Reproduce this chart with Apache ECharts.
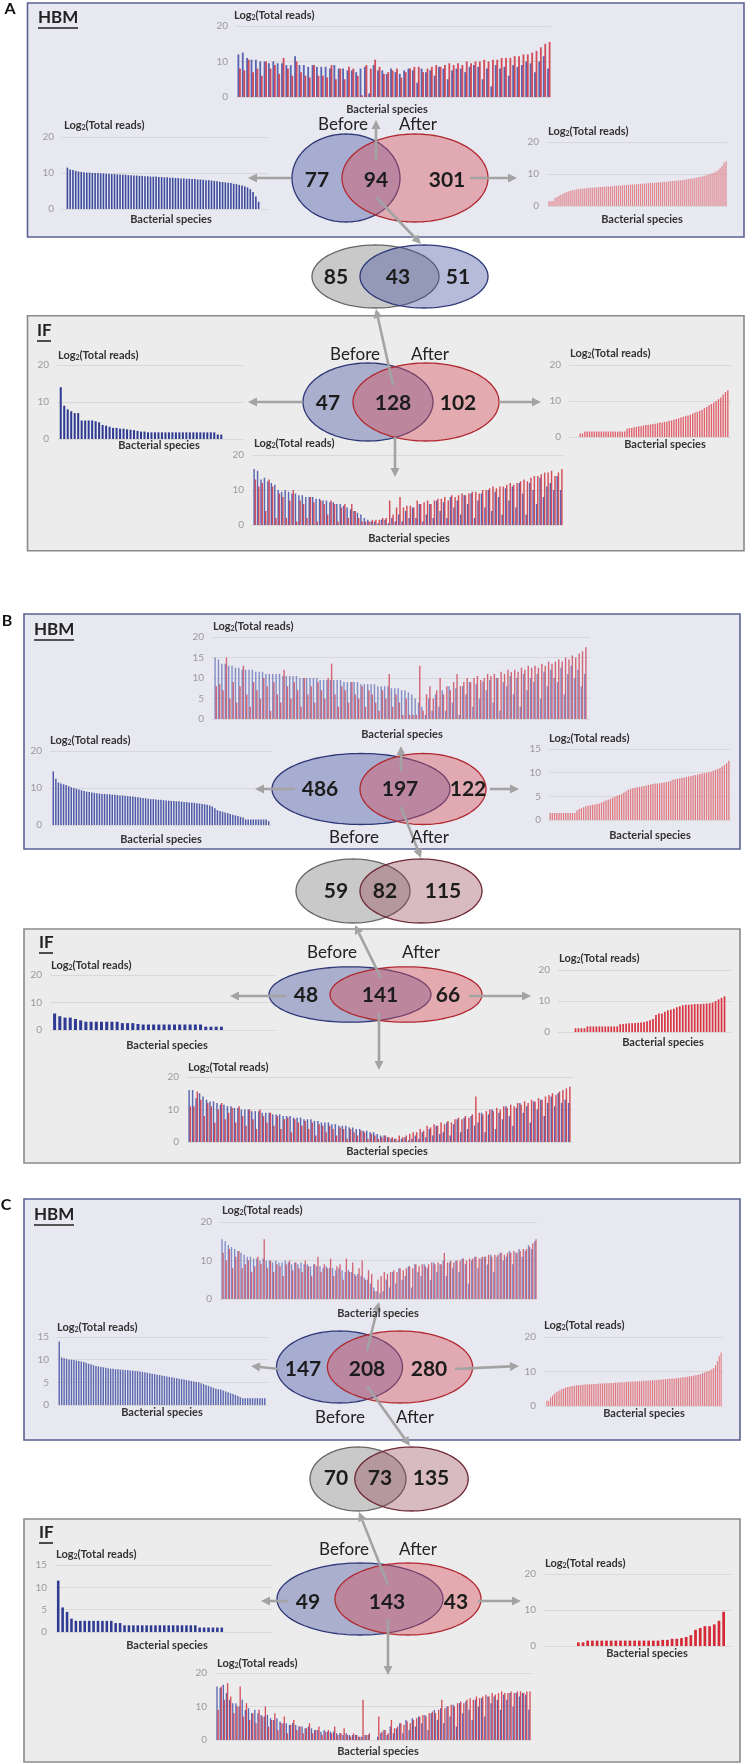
<!DOCTYPE html>
<html><head><meta charset="utf-8">
<script src="https://cdn.jsdelivr.net/npm/echarts@6/dist/echarts.min.js"></script>
<style>html,body{margin:0;padding:0;background:#fff}#c{width:746px;height:1763px}</style>
</head><body><div id="c"></div>
<script>
// ---------------- DATA (Log2 total reads per bacterial species) ----------------
// Panel A – HBM
const aHbmSharedBefore = [12,12.5,11,10.5,10.5,10,10,9.5,10,9.5, 9.5,9,9,11.5,9,9,8.5,9,8.5,8.5, 8.5,8,9,8,8,7.5,7.5,7,8,8.5, 1,9,7.5,7.5,6.5,8,7,6.5,7.5,8, 7.5,4,8,7,7.5,6,8.5,8,5,7.5, 8,8,7,8.5,9,8.5,5,8,3,9, 8,8.5,6,9,8.5,9,10,9.5,7,10, 11.5,8];
const aHbmSharedAfter  = [8,7.5,10.5,7,8,6,10,8,9,6.5, 11,8,6,10,7,6,5.5,9,6,6, 5.5,9,5,8,5,8.5,8,6,0.5,9, 8,10.5,8.5,6.5,7,7.5,8,5.5,7,8, 8.5,8.5,7,8,8.5,9,8.5,9,9.5,9, 9.5,9,10,9.5,10,10,10.5,10,10.5,10.5, 11,11,11,11.5,11.5,12,12,12.5,13,14, 15,15.5];
const aHbmBeforeOnly = [11.5,11,10.8,10.6,10.4,10.3,10.2,10.1,10.1,10, 10,10,9.9,9.9,9.8,9.8,9.7,9.7,9.6,9.6, 9.5,9.5,9.4,9.4,9.3,9.3,9.2,9.2,9.1,9.1, 9,9,9,8.9,8.9,8.8,8.8,8.7,8.7,8.6, 8.6,8.5,8.5,8.4,8.4,8.3,8.3,8.2,8.2,8.1, 8,8,7.9,7.8,7.7,7.6,7.5,7.4,7.3,7.2, 7,6.9,6.7,6.5,6.3,6,5.5,4.7,3.5,2];
const aHbmAfterOnly = [1.5,1.5,1.6,2.5,2.8,3.2,3.5,3.8,4.1,4.4, 4.6,4.8,5,5.1,5.2,5.3,5.4,5.5,5.5,5.6, 5.6,5.7,5.7,5.8,5.8,5.9,5.9,6,6,6.1, 6.1,6.2,6.2,6.3,6.3,6.4,6.4,6.5,6.5,6.6, 6.6,6.7,6.7,6.8,6.8,6.9,6.9,7,7,7.1, 7.1,7.2,7.2,7.3,7.3,7.4,7.4,7.5,7.5,7.6, 7.6,7.7,7.8,7.8,7.9,8,8,8.1,8.2,8.3, 8.4,8.5,8.6,8.7,8.8,9,9.1,9.2,9.4,9.6, 9.8,10,10.2,10.5,10.8,11.2,11.8,12.5,13.5,14];
// Panel A – IF
const aIfBeforeOnly = [14,9,8,7.5,7,7,5,5,5,5, 4.8,4.5,3.8,3.6,3.3,3,3,2.8,2.8,2.6, 2.5,2.4,2.2,2,2,1.8,1.8,1.8,1.8,1.8, 1.8,1.8,1.8,1.8,1.8,1.8,1.8,1.8,1.8,1.8, 1.8,1.8,1.8,1.8,1.8,1.2,1.2];
const aIfAfterOnly = [1,1,1.5,1.5,1.5,1.5,1.5,1.5,1.5,1.5, 1.5,1.5,1.5,1.5,1.5,1.5,1.5,1.5,1.5,1.5, 2.3,2.5,2.5,2.7,2.8,3,3,3.2,3.3,3.4, 3.5,3.6,3.7,3.8,4,4,4.2,4.3,4.5,4.6, 4.8,5,5.2,5.4,5.6,5.8,6,6.2,6.5,6.8, 7,7.3,7.6,8,8.4,8.8,9.2,9.6,10,10.5, 11,11.8,12.5,13];
const aIfSharedBefore = [16,15.5,13,13.5,12.5,12,11.5,10,9.5,10, 9.5,9,9,8.5,8.5,8,8,8,7.5,7.5, 7,7,6.5,6.5,6,6,5.5,5,4.5,4, 3.5,3,2,1.5,1,1,0.5,1.5,1.5,0.5, 2,1,3,1,4,2,5,2,6,1, 3,6,2,7,4,6.5,2,8,5,7, 3,8.5,6,9,2,7,9,5,10,4, 9.5,8,3,10.5,7,11,5,12,9,3, 12,10,6,13.5,8,11,12,10,14,10];
const aIfSharedAfter  = [13,11,12,4,13,11,2,9,8,2, 7,10,1,7,6,2,8,6.5,1,7, 6,3,7,6,1,5,6,2,6,4, 2,1,1,1,1.5,1.5,1.5,2,2,7, 3,5,8,5,5.5,5.5,5,7,6,6.5, 7,6,7,7.5,7.5,8,7,8.5,8,8.5, 9,8.5,9,9.5,9.5,9,10,10,10.5,11, 10.5,11,11,11.5,12,11.5,12,12.5,13,12.5, 13.5,14,14,14.5,15,15,15.5,14,15,16];
// Panel B – HBM
const bHbmSharedBefore = [15,14.5,13.5,13.5,13,13,12.5,12.5,12,12, 12,12,11.5,11.5,11.5,11,11,11,11,11, 10.5,10.5,10.5,10.5,10.5,10,10,10,10,10, 10,9.5,9.5,9.5,9.5,9.5,9.5,9.5,9,9, 9,9,9,8.5,8.5,8.5,8.5,8.5,8,8, 8,8,7.5,7.5,7.5,7,7,6.5,6,5, 4,3,1,5,2,6,3,7,2,8, 4,7.5,1,8,6,9,3,8.5,5,9, 7,9.5,4,10,2,9,8,10.5,6,10, 3,11,7,10,9,11,5,11.5,8,12, 10,9,12.5,6,11,13,10,12,8,11];
const bHbmSharedAfter  = [8,8.5,7,15,5,9,4,8,13,6, 3,9,7,5,10,8,2,9,6,4, 12,8,5,9,7,3,10,6,8,4, 9,7,5,10,13.5,6,3,8,7,4, 9,6,5,8,3,7,6,4,2,7, 5,11,3,6,4,1,5,1,1,1, 13,2,6,8,5,7,10,6,8,7, 9,11,8,9,10,9,10,10.5,9.5,10, 11,10.5,11,10,11.5,11,12,11.5,12,11.5, 12.5,12,13,12.5,13,12.5,13.5,13,14,13.5, 14,14.5,14,15,14.5,15.5,15,16,16.5,17.5];
const bHbmBeforeOnly = [14.5,12.5,11.5,11.2,11,10.8,10.5,10.2,10,9.8, 9.6,9.4,9.2,9,8.9,8.8,8.7,8.6,8.5,8.4, 8.4,8.3,8.3,8.2,8.2,8.1,8,8,7.9,7.8, 7.8,7.7,7.6,7.5,7.4,7.3,7.2,7.1,7,7, 6.9,6.8,6.8,6.7,6.6,6.6,6.5,6.5,6.4,6.4, 6.3,6.2,6.2,6.1,6,6,5.9,5.8,5.7,5.6, 5.5,5.3,5,4.5,4,3.8,3.6,3.4,3.2,3, 2.8,2.6,2.4,2.2,2,1.5,1.5,1.5,1.5,1.5, 1.5,1.5,1.5,1.5,1];
const bHbmAfterOnly = [1.5,1.5,1.5,1.5,1.5,1.5,1.5,1.5,1.5,1.5, 1.5,1.5,2,2.3,2.5,2.7,2.9,3,3.1,3.2, 3.3,3.4,3.5,3.7,3.9,4.1,4.3,4.5,4.7,4.9, 5.1,5.3,5.5,5.8,6.1,6.4,6.6,6.7,6.8,6.9, 7,7.1,7.2,7.3,7.4,7.5,7.6,7.7,7.7,7.8, 7.8,7.9,8,8.1,8.3,8.5,8.6,8.7,8.8,8.9, 9,9.1,9.2,9.3,9.4,9.5,9.6,9.7,9.8,9.9, 10,10.1,10.2,10.4,10.6,10.8,11,11.3,11.6,12, 12.5];
// Panel B – IF
const bIfBeforeOnly = [6,5,4.5,4.5,4,3.5,3,3,3,3, 3,3,3,2.5,2.5,2.5,2.2,2,2,2, 2,2,2,2,2,2,2,2,2,1.2, 1.2,1.2,1.2];
const bIfAfterOnly = [1.2,1.2,1.2,1.2,1.8,1.8,1.8,1.8,1.8,1.8, 1.8,1.8,1.8,1.8,1.8,2.5,2.6,2.7,2.8,2.8, 2.9,3,3.1,3.2,3.5,3.8,4.2,5.5,6,6, 6.5,7,7.2,7.5,8,8.3,8.6,8.8,8.8,8.9, 9,9,9,9.1,9.2,9.3,9.5,10,10.5,11, 11.5];
const bIfSharedBefore = [16,16,13.5,15,14,13,12.5,12.5,12,11.5, 11.5,11,11,10.5,10.5,10,10,10,9.5,9.5, 9.5,9,9,9,8.5,8.5,8.5,8,8,8, 7.5,7.5,7.5,7,7,7,6.5,6.5,6,6, 6,5.5,5.5,5,5,5,4.5,4.5,4,4, 3.5,3.5,3,3,2.5,2,2,1.5,1,1, 0.5,1,1.5,0.5,1,2,1,3,1.5,4, 2,5,2.5,3,6,2,5.5,7,3,7.5, 4,8,5,6,9,3,8.5,10,4,9, 7,11,8,5,10.5,12,9,11,6,12.5, 10,13,8,12,14,11,15,12,13,12];
const bIfSharedAfter  = [11,11,15.5,13,8,12,11,6,10,12, 7,9,10.5,6,11,8,5,10,7,4, 10,8,6,9,5,8,4,7,7.5,3, 7,6,5,6.5,4,6,2,5.5,5,3, 5,4,2,4.5,4,1,4,3,2,3.5, 3,1,2.5,2,1,1.5,2,1.5,1.5,1, 2,1.5,2,2.5,3,3,4,3.5,5,4.5, 5.5,5,6,5.5,6.5,6,7,7.5,7,8, 7.5,8.5,14,9,8.5,9.5,10,9.5,10.5,10, 11,10.5,11.5,11,12,11.5,12.5,12,13,12.5, 13.5,13,14,14.5,15,14.5,15.5,16,16.5,17];
// Panel C – HBM
const cHbmSharedBefore = [15.5,15,14,13.5,13,12.5,12,11.5,11,11, 10.5,10.5,10,10.5,10,10,9.5,10,9.5,9.5, 10,9.5,9,9.5,9,9.5,9,9,8.5,9, 8.5,8.5,8,8.5,8,8,7.5,8,7.5,7, 7.5,7,6.5,6.5,6,5.5,5,4,3,2, 1.5,2,5,3,7,4,8,5,6,8.5, 3,9,7,6,9,8,5,9.5,7,9, 10,6,9.5,8,10,7,10.5,9,4,10, 11,8,10.5,11,9,11.5,7,11,12,10, 11,12.5,9,12,13,11,12.5,14,13,15];
const cHbmSharedAfter  = [12,10,13,8,11,12.5,8,9,10,7, 8.5,11,9,15.5,8,10,7,9,8.5,6, 9,10,7.5,9.5,8,7,10,8.5,6,9, 11,7,9,8,10.5,6,8.5,9,5,10.5, 7,9.5,6,8,10,5,7.5,6.5,2,5, 6,7,6.5,7,7.5,7,8,7.5,8,8.5, 8,9,8.5,9,8.5,9,9.5,9,9.5,9, 12,9.5,10,9.5,10,10,10.5,10,10.5,10.5, 11,10.5,11,11,11.5,11,11.5,11.5,12,11.5, 12,12,12.5,12,12.5,13,13,13.5,14.5,15.5];
const cHbmBeforeOnly = [14,10.5,10.3,10.2,10,10,9.9,9.8,9.7,9.6, 9.5,9.3,9.1,9,8.8,8.6,8.5,8.4,8.3,8.2, 8.1,8,8,7.9,7.9,7.8,7.8,7.7,7.7,7.6, 7.6,7.5,7.5,7.4,7.3,7.2,7.1,7,6.9,6.8, 6.7,6.6,6.5,6.4,6.3,6.2,6.1,6,5.9,5.8, 5.7,5.6,5.5,5.4,5.3,5.2,5.1,5,4.8,4.6, 4.4,4.2,4,3.8,3.6,3.5,3.4,3.2,3,2.8, 2.6,2.4,2.2,2,1.7,1.5,1.5,1.5,1.5,1.5, 1.5,1.5,1.5,1.5,1.5];
const cHbmAfterOnly = [1.5,1.5,2.5,3,3.5,4,4.3,4.6,4.9,5.1, 5.3,5.5,5.6,5.7,5.8,5.9,6,6,6.1,6.1, 6.2,6.2,6.3,6.3,6.3,6.4,6.4,6.4,6.5,6.5, 6.5,6.6,6.6,6.6,6.7,6.7,6.7,6.8,6.8,6.8, 6.9,6.9,6.9,7,7,7,7.1,7.1,7.1,7.2, 7.2,7.2,7.3,7.3,7.3,7.4,7.4,7.5,7.5,7.5, 7.6,7.6,7.7,7.7,7.8,7.8,7.9,7.9,8,8, 8.1,8.1,8.2,8.3,8.3,8.4,8.5,8.6,8.7,8.8, 8.9,9,9.1,9.3,9.5,9.7,9.9,10.1,10.3,10.6, 11,11.8,13,14.5,15.5];
// Panel C – IF
const cIfBeforeOnly = [11.5,5.5,4.5,3,2.5,2.5,2.5,2.5,2.5,2.5, 2.5,2.5,2.5,2,2,1.5,1.5,1.5,1.5,1.5, 1.5,1.5,1.5,1.5,1.5,1.5,1.5,1.5,1.5,1.5, 1.5,1.5,1,1,1,1,1,1];
const cIfAfterOnly = [1,1,1.5,1.5,1.5,1.5,1.5,1.5,1.5,1.5, 1.5,1.5,1.5,1.5,1.5,1.5,1.5,1.5,1.7,1.7, 2,2,2.2,2.5,3,4.5,5,5.5,5.5,6, 7,9.5];
const cIfSharedBefore = [16,15.5,16.5,14,12,11,11,10,12,9, 9.5,8,9,8,7.5,7,7.5,6.5,6,6.5, 5.5,5,5,4.5,5,4.5,4,4,3.5,4, 3.5,3,3,2.5,3,2.5,2.5,2.5,2,2, 1.5,2,1.5,1.5,1.5,1,1,1.5,1.5,0, 0,1,2,3,1.5,4,2,3.5,5,2, 6,3,6.5,4,7,5,7.5,3,8,9, 6,9.5,5,10,7,10.5,4,11,8,11.5, 9,6,12,10,12.5,7,13,11,13,12, 9,13.5,12,14,10,14,13,14,13.5,9];
const cIfSharedAfter  = [9,16,12,17,13,8,10,16,7,11, 6,8,5,9,7,10,4,6,8,3, 5,7,2,4.5,6,3,4,2,3.5,5, 2,3,4,1.5,2.5,3,2,4,1.5,2, 3.5,1.5,1,2,1.5,1,12,1.5,2,0, 0,7,2.5,3,2,6,3.5,4,5,4.5, 5.5,5,6,6.5,7,7.5,7,8,8.5,8, 9,12,9.5,10,10.5,10,11,11.5,11,12, 12.5,12,13,12.5,13,13.5,13,14,13.5,14, 14.5,14,14,14.5,14,14.5,14.5,14,14.5,14.5];

// Venn counts
const vennA_HBM = [77, 94, 301], vennA_cmp = [85, 43, 51], vennA_IF = [47, 128, 102];
const vennB_HBM = [486, 197, 122], vennB_cmp = [59, 82, 115], vennB_IF = [48, 141, 66];
const vennC_HBM = [147, 208, 280], vennC_cmp = [70, 73, 135], vennC_IF = [49, 143, 43];

// ---------------- LAYOUT ----------------
const F = "Lato, 'Open Sans', sans-serif";
const BLUE_S = 'rgba(58,72,162,0.82)', RED_S = 'rgba(206,42,58,0.82)';
// plot: [left, top, right, bottom]; bars: [first bar left px, last bar right px]
const specs = [
  {plot:[236,26,551,97],   bars:[237,551], yMax:20, yInt:10, s:[aHbmSharedBefore,aHbmSharedAfter], c:[BLUE_S,RED_S], t:[234,15], xl:[387,109]},
  {plot:[62,137,268,209],  bars:[66,260],  yMax:20, yInt:10, s:[aHbmBeforeOnly], c:['#3f4c9e'], t:[64,125], xl:[171,219]},
  {plot:[547,142,727,206], bars:[548,727], yMax:20, yInt:10, s:[aHbmAfterOnly], c:['#e0848d'], t:[548,131], xl:[642,219]},
  {plot:[57,365,243,439],  bars:[59,223],  yMax:20, yInt:10, s:[aIfBeforeOnly], c:['#2f3a92'], t:[58,355], xl:[159,445]},
  {plot:[569,365,731,437], bars:[579,729], yMax:20, yInt:10, s:[aIfAfterOnly], c:['#e0606c'], t:[570,353], xl:[665,444]},
  {plot:[252,455,563,525], bars:[253,563], yMax:20, yInt:10, s:[aIfSharedBefore,aIfSharedAfter], c:[BLUE_S,RED_S], t:[254,443], xl:[409,538]},

  {plot:[212,637,590,719], bars:[214,587], yMax:20, yInt:5, s:[bHbmSharedBefore,bHbmSharedAfter], c:['rgba(90,104,178,0.7)','rgba(200,50,70,0.7)'], t:[213,626], xl:[402,734]},
  {plot:[50,751,272,825],  bars:[52,270],  yMax:20, yInt:10, s:[bHbmBeforeOnly], c:['#4d59a6'], t:[50,740], xl:[161,839]},
  {plot:[549,749,730,820], bars:[549,730], yMax:15, yInt:5, s:[bHbmAfterOnly], c:['#e07880'], t:[549,738], xl:[650,835]},
  {plot:[50,975,275,1030], bars:[52,224],  yMax:20, yInt:10, s:[bIfBeforeOnly], c:['#2f3a92'], t:[51,965], xl:[167,1045]},
  {plot:[558,970,731,1032],bars:[574,726], yMax:20, yInt:10, s:[bIfAfterOnly], c:['#d83644'], t:[559,958], xl:[663,1042]},
  {plot:[187,1077,573,1142],bars:[188,571],yMax:20, yInt:10, s:[bIfSharedBefore,bIfSharedAfter], c:[BLUE_S,RED_S], t:[188,1067], xl:[387,1151]},

  {plot:[220,1222,537,1299],bars:[221,537],yMax:20, yInt:10, s:[cHbmSharedBefore,cHbmSharedAfter], c:['rgba(90,104,178,0.72)','rgba(200,50,70,0.72)'], t:[222,1210], xl:[378,1313]},
  {plot:[57,1337,268,1405], bars:[58,266], yMax:15, yInt:5, s:[cHbmBeforeOnly], c:['#5a66ad'], t:[57,1327], xl:[162,1412]},
  {plot:[544,1337,723,1406],bars:[546,722],yMax:20, yInt:10, s:[cHbmAfterOnly], c:['#e07880'], t:[544,1325], xl:[644,1413]},
  {plot:[55,1565,272,1632], bars:[56,224], yMax:15, yInt:5, s:[cIfBeforeOnly], c:['#2f3a92'], t:[56,1554], xl:[167,1645]},
  {plot:[544,1574,731,1646],bars:[576,726],yMax:20, yInt:10, s:[cIfAfterOnly], c:['#d42a36'], t:[545,1563], xl:[647,1653]},
  {plot:[215,1673,531,1740],bars:[216,531],yMax:20, yInt:10, s:[cIfSharedBefore,cIfSharedAfter], c:[BLUE_S,RED_S], t:[217,1663], xl:[378,1751]}
];

// ---------------- GRAPHIC HELPERS ----------------
const gfx = [];
function box(x,y,w,h,fill,stroke){gfx.push({type:'rect',z:-10,silent:true,shape:{x:x,y:y,width:w,height:h},style:{fill:fill,stroke:stroke,lineWidth:1.6}});}
function txt(x,y,t,size,weight,align,color){gfx.push({type:'text',z:60,silent:true,x:x,y:y,style:{text:t,fontSize:size,fontWeight:weight,fontFamily:F,fill:color||'#222',textAlign:align||'center',textVerticalAlign:'middle',align:align||'center',verticalAlign:'middle'}});}
function uline(x1,x2,y){gfx.push({type:'line',z:60,silent:true,shape:{x1:x1,y1:y,x2:x2,y2:y},style:{stroke:'#222',lineWidth:1.6}});}
function title(x,y){gfx.push({type:'text',z:60,silent:true,x:x,y:y,style:{text:'{a|Log}{s|2}{a|(Total reads)}',rich:{a:{fontSize:11,fontWeight:'bold',fontFamily:F,fill:'#333'},s:{fontSize:7,fontWeight:'bold',fontFamily:F,fill:'#333',padding:[6,0,0,0]}},textAlign:'left',align:'left',textVerticalAlign:'middle',verticalAlign:'middle'}});}
function ell(cx,cy,rx,ry,fill,stroke){const p=[];for(let k=0;k<120;k++){const a=k/120*Math.PI*2;p.push([cx+rx*Math.cos(a),cy+ry*Math.sin(a)]);}gfx.push({type:'polygon',z:40,silent:true,shape:{points:p},style:{fill:fill,stroke:stroke,lineWidth:1.3}});}
function arrow(x1,y1,x2,y2){const dx=x2-x1,dy=y2-y1,L=Math.hypot(dx,dy),ux=dx/L,uy=dy/L,h=9,w=4.5,bx=x2-ux*h,by=y2-uy*h;
  gfx.push({type:'line',z:55,silent:true,shape:{x1:x1,y1:y1,x2:bx,y2:by},style:{stroke:'#a3a3a3',lineWidth:2.6}});
  gfx.push({type:'polygon',z:55,silent:true,shape:{points:[[x2,y2],[bx-uy*w,by+ux*w],[bx+uy*w,by-ux*w]]},style:{fill:'#a3a3a3'}});}

const HB='#e8e8f0', HBs='#5a6292', IFB='#ececec', IFs='#8a8a8a';
const vBefore='rgba(60,75,155,0.38)', vBeforeS='#2e3778', vAfter='rgba(215,80,90,0.42)', vAfterS='#b02830';
const gray='rgba(120,120,120,0.4)', grayS='#666', mauve='rgba(140,60,75,0.35)', mauveS='#6e2a35';
function nums(arr,xs,y,size){for(let i=0;i<3;i++) txt(xs[i],y,String(arr[i]),size||21,'bold','center','#1c1c1c');}

// Panel A
txt(10,9,'A',16,'bold','center','#111');
box(27.5,3,716.5,234,HB,HBs); txt(38,18,'HBM',17,'bold','left','#222'); uline(38,78,28);
ell(346,178,54,44,vBefore,vBeforeS); ell(415,178,73,44,vAfter,vAfterS);
txt(343,125,'Before',17,'normal'); txt(418,125,'After',17,'normal');
nums(vennA_HBM,[317,376,447],180);
arrow(291,178,248,178); arrow(470,178,517,178); arrow(376,160,376,120); arrow(376,197,421,244);
ell(375.5,276.5,63.5,31.5,gray,grayS); ell(424,276.5,64,31.5,vBefore,vBeforeS);
nums(vennA_cmp,[336,398,458],277);
box(27.5,315.7,716.5,235,IFB,IFs); txt(37,331,'IF',17,'bold','left','#222'); uline(37,51,341);
ell(368,402,65,39,vBefore,vBeforeS); ell(426,402,73,39,vAfter,vAfterS);
txt(355,355,'Before',17,'normal'); txt(430,355,'After',17,'normal');
nums(vennA_IF,[328,393,458],403);
arrow(393,385,376,309); arrow(303,402,248,402); arrow(499,402,541,402); arrow(395,437,395,477);

// Panel B
txt(7,621,'B',16,'bold','center','#111');
box(24,614,716,235,HB,HBs); txt(34,630,'HBM',17,'bold','left','#222'); uline(34,74,640);
ell(361,789,89,35.5,vBefore,vBeforeS); ell(423,789,63,35.5,vAfter,vAfterS);
txt(354,838,'Before',17,'normal'); txt(430,838,'After',17,'normal');
nums(vennB_HBM,[320,400,468],789);
arrow(295,789,255,789); arrow(490,789,519,789); arrow(401,771,401,746); arrow(401,807,421,858);
ell(353,891,57,32,gray,grayS); ell(421,891,61,32,mauve,mauveS);
nums(vennB_cmp,[336,385,443],891);
box(24,929,716,234,IFB,IFs); txt(39,943,'IF',17,'bold','left','#222'); uline(39,53,953);
ell(350,994.5,81,27.7,vBefore,vBeforeS); ell(406,994.5,76,27.7,vAfter,vAfterS);
txt(332,953,'Before',17,'normal'); txt(421,953,'After',17,'normal');
nums(vennB_IF,[306,380,448],995);
arrow(286,996,230,996); arrow(469,996,531,996); arrow(381,978,355,925); arrow(379,1013,379,1070);

// Panel C
txt(6,1205,'C',16,'bold','center','#111');
box(24,1199,716,241,HB,HBs); txt(34,1215,'HBM',17,'bold','left','#222'); uline(34,74,1225);
ell(339.5,1367,63,36,vBefore,vBeforeS); ell(400,1367,72.6,36,vAfter,vAfterS);
txt(340,1418,'Before',17,'normal'); txt(415,1418,'After',17,'normal');
nums(vennC_HBM,[303,367,429],1369);
arrow(279,1369,251,1366); arrow(455,1369,519,1366); arrow(367,1351,379,1302); arrow(367,1386,410,1446);
ell(358,1479,48,32,gray,grayS); ell(411.5,1479,56.7,32,mauve,mauveS);
nums(vennC_cmp,[336,380,431],1478);
box(24,1519,716,243,IFB,IFs); txt(39,1533,'IF',17,'bold','left','#222'); uline(39,53,1543);
ell(360,1599,83,36,vBefore,vBeforeS); ell(408,1599,73,36,vAfter,vAfterS);
txt(344,1550,'Before',17,'normal'); txt(418,1550,'After',17,'normal');
nums(vennC_IF,[308,387,456],1602);
arrow(288,1601,261,1601); arrow(478,1601,521,1601); arrow(388,1585,359,1512); arrow(388,1619,388,1675);

// ---------------- CHART GRIDS ----------------
const grid=[], xAxis=[], yAxis=[], series=[];
specs.forEach(function(sp,i){
  const L=sp.plot[0],T=sp.plot[1],R=sp.plot[2],B=sp.plot[3];
  const n=Math.max.apply(null,sp.s.map(function(a){return a.length;}));
  const unit=(sp.bars[1]-sp.bars[0])/n;
  grid.push({left:L,top:T,width:R-L,height:B-T});
  xAxis.push({type:'value',gridIndex:i,show:false,min:-0.5-(sp.bars[0]-L)/unit,max:n-0.5+(R-sp.bars[1])/unit});
  yAxis.push({type:'value',gridIndex:i,min:0,max:sp.yMax,interval:sp.yInt,axisLine:{show:false},axisTick:{show:false},
    axisLabel:{color:'#9a9a9a',fontSize:10,margin:8,fontFamily:F},splitLine:{lineStyle:{color:'#d8d8d8',width:1}}});
  const paired=sp.s.length>1;
  sp.s.forEach(function(arr,k){
    series.push({type:'bar',xAxisIndex:i,yAxisIndex:i,silent:true,animation:false,
      barWidth:Math.max(1,unit*(paired?0.42:0.58)),barGap:'-15%',
      itemStyle:{color:sp.c[k]},data:arr.map(function(v,j){return [j,v];})});
  });
  title(sp.t[0],sp.t[1]);
  txt(sp.xl[0],sp.xl[1],'Bacterial species',11,'bold','center','#333');
});

const chart=echarts.init(document.getElementById('c'),null,{renderer:'canvas',width:746,height:1763});
chart.setOption({animation:false,backgroundColor:'#ffffff',grid:grid,xAxis:xAxis,yAxis:yAxis,series:series,graphic:{elements:gfx}});
</script></body></html>
